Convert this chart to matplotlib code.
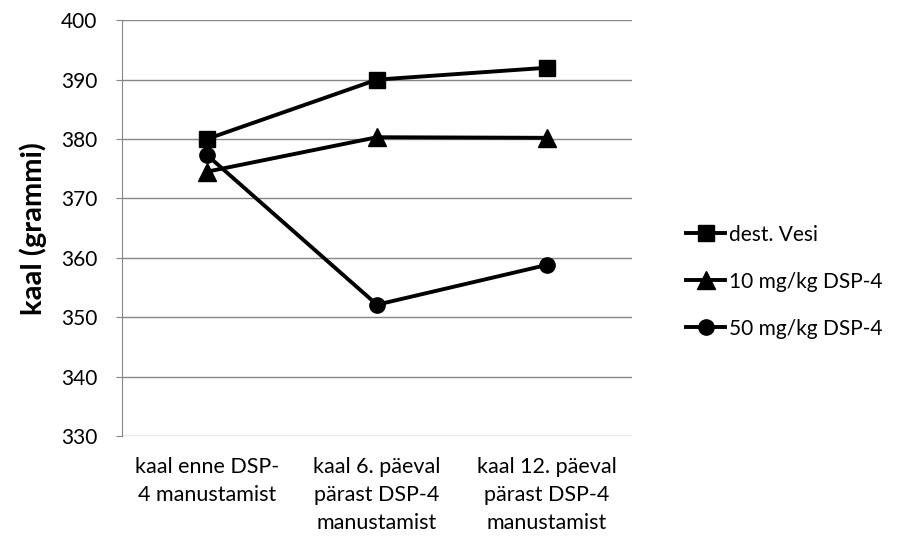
import matplotlib.pyplot as plt

plt.rcParams['font.family'] = ['Lato', 'DejaVu Sans']

# Data
categories = ['kaal enne DSP-\n4 manustamist',
              'kaal 6. päeval\npärast DSP-4\nmanustamist',
              'kaal 12. päeval\npärast DSP-4\nmanustamist']
vesi = [380, 390, 392]
dsp10 = [374.5, 380.3, 380.2]
dsp50 = [377.3, 352.1, 358.8]

x = range(len(categories))

fig = plt.figure(figsize=(9.04, 5.47), dpi=100)
ax = fig.add_axes([0.135, 0.203, 0.564, 0.760])

ax.plot(x, vesi, color='black', lw=2.8, marker='s', ms=12, label='dest. Vesi')
ax.plot(x, dsp10, color='black', lw=2.8, marker='^', ms=13, label='10 mg/kg DSP-4')
ax.plot(x, dsp50, color='black', lw=2.8, marker='o', ms=11, label='50 mg/kg DSP-4')

ax.set_xlim(-0.5, 2.5)
ax.set_ylim(330, 400)
ax.set_yticks(range(330, 401, 10))
ax.set_xticks(list(x))
ax.set_xticklabels(categories, fontsize=15.5, linespacing=1.5)
ax.tick_params(axis='y', labelsize=15, length=4, color='#868686', pad=14)
ax.tick_params(axis='x', length=0, pad=15)
ax.grid(axis='y', color='#868686', lw=1)
ax.set_axisbelow(True)
for s in ['top', 'right', 'bottom']:
    ax.spines[s].set_visible(False)
ax.spines['left'].set_color('#868686')
ax.set_ylabel('kaal (grammi)', fontsize=21, fontweight='bold', labelpad=10)

fig.legend(loc='center left', bbox_to_anchor=(0.738, 0.485), frameon=False,
           fontsize=15, handlelength=1.9, handletextpad=0.15, labelspacing=1.3)

fig.savefig('out.png', dpi=100)
